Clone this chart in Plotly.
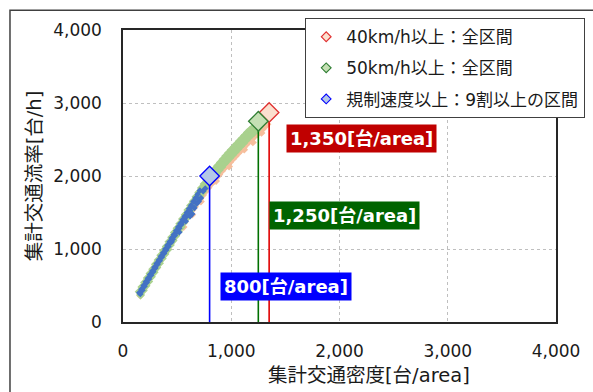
import plotly.graph_objects as go

# ---- data ----
orange_x = [160, 190, 215, 240, 265, 290, 315, 340, 365, 390, 415, 440, 465, 490, 515, 540, 565, 590, 615, 640,
            665, 690, 715, 740, 765, 790, 815, 840, 865, 890, 915, 940, 965, 990, 1015, 1040, 1065, 1090, 1115, 1140,
            1165, 1190, 1215, 1240, 1265, 1290, 1315, 1335,
            560, 720, 980, 1120, 1200, 860, 640, 1280]
orange_y = [360, 450, 520, 585, 650, 710, 775, 835, 895, 955, 1010, 1075, 1130, 1190, 1250, 1300, 1360, 1420, 1470, 1530,
            1580, 1640, 1690, 1740, 1790, 1840, 1890, 1930, 1980, 2020, 2070, 2110, 2150, 2190, 2230, 2270, 2310, 2350, 2390, 2430,
            2470, 2500, 2540, 2570, 2610, 2640, 2680, 2710,
            1300, 1650, 2130, 2360, 2460, 1930, 1470, 2590]

green_x = [150, 175, 200, 225, 250, 275, 300, 325, 350, 375, 400, 425, 450, 475, 500, 525, 550, 575, 600, 625,
           650, 675, 700, 725, 750, 775, 800, 825, 850, 875, 900, 925, 950, 975, 1000, 1025, 1050, 1075, 1100, 1125,
           1150, 1175, 1200, 1225,
           162, 187, 212, 237, 262, 287, 312, 337, 362, 387, 412, 437, 462, 487, 512, 537, 562, 587, 612, 637,
           662, 687, 712, 737, 762, 787, 812, 837, 862, 887, 912, 937, 962, 987, 1012, 1037, 1062, 1087, 1112, 1137,
           1162, 1187, 1212, 1237, 1255]
green_y = [415, 478, 540, 602, 665, 724, 790, 850, 915, 975, 1035, 1100, 1160, 1225, 1285, 1345, 1410, 1470, 1535, 1595,
           1655, 1715, 1775, 1835, 1890, 1945, 1995, 2045, 2095, 2140, 2185, 2230, 2275, 2315, 2355, 2395, 2435, 2475, 2515, 2555,
           2595, 2630, 2660, 2690,
           370, 432, 495, 555, 620, 680, 745, 805, 870, 930, 990, 1055, 1115, 1180, 1240, 1300, 1365, 1425, 1490, 1550,
           1610, 1670, 1730, 1785, 1840, 1895, 1940, 1990, 2035, 2080, 2125, 2170, 2210, 2250, 2290, 2330, 2370, 2410, 2450, 2490,
           2530, 2565, 2600, 2635, 2665]

blue_x = [150, 170, 190, 210, 230, 250, 270, 290, 310, 330, 350, 370, 390, 410, 430, 450, 470, 490, 510, 530,
          550, 570, 590, 610, 630, 650, 670, 690, 710,
          160, 180, 200, 220, 240, 260, 280, 300, 320, 340, 360, 380, 400, 420, 440, 460, 480, 500, 520, 540,
          560, 580, 600, 620,
          640, 660, 680, 700, 720, 690, 740, 760, 580, 520, 450, 620]
blue_y = [400, 450, 500, 550, 600, 650, 700, 750, 800, 850, 900, 950, 1000, 1050, 1100, 1150, 1200, 1250, 1300, 1350,
          1400, 1450, 1500, 1550, 1600, 1650, 1700, 1750, 1800,
          385, 435, 490, 540, 590, 640, 690, 740, 790, 840, 890, 940, 985, 1035, 1085, 1135, 1185, 1235, 1285, 1335,
          1385, 1435, 1480, 1530,
          1480, 1560, 1620, 1650, 1700, 1690, 1790, 1830, 1380, 1230, 1100, 1450]

crit_x = [1350, 1250, 800]
crit_y = [2870, 2750, 2000]
crit_labels = ["1,350[台/area]", "1,250[台/area]", "800[台/area]"]
label_pos_x = [2200, 2050, 1505]
label_pos_y = [2520, 1465, 490]
legend_names = ["40km/h以上：全区間", "50km/h以上：全区間", "規制速度以上：9割以上の区間"]
x_title = "集計交通密度[台/area]"
y_title = "集計交通流率[台/h]"

line_colors = ["#E00000", "#007000", "#0000FF"]
diamond_fill = ["#FBE0CF", "#C5E0B4", "#B4C7E7"]
diamond_edge = ["#E03030", "#2E7D32", "#0000FF"]
box_colors = ["#C00000", "#006400", "#0000FF"]

FONT = "DejaVu Sans, Noto Sans CJK JP, sans-serif"

fig = go.Figure()

# legend dummies
for i in range(3):
    fig.add_trace(go.Scatter(x=[None], y=[None], mode="markers", name=legend_names[i],
                             legendgroup=f"g{i}",
                             marker=dict(symbol="diamond", size=7.5, color=diamond_fill[i],
                                         line=dict(color=diamond_edge[i], width=1.1))))

# scatter clouds
fig.add_trace(go.Scatter(x=orange_x, y=orange_y, mode="markers", showlegend=False,
                         marker=dict(symbol="diamond", size=6, color="#F6BE9C", line=dict(width=0))))
fig.add_trace(go.Scatter(x=green_x, y=green_y, mode="markers", showlegend=False,
                         marker=dict(symbol="diamond", size=7, color="#A9D18E", line=dict(width=0))))
fig.add_trace(go.Scatter(x=blue_x, y=blue_y, mode="markers", showlegend=False,
                         marker=dict(symbol="diamond", size=5, color="#4472C4", line=dict(width=0))))

# vertical lines and big diamonds
for i in range(3):
    fig.add_trace(go.Scatter(x=[crit_x[i], crit_x[i]], y=[0, crit_y[i]], mode="lines", showlegend=False,
                             line=dict(color=line_colors[i], width=1.6)))
for i in range(3):
    fig.add_trace(go.Scatter(x=[crit_x[i]], y=[crit_y[i]], mode="markers", showlegend=False,
                             marker=dict(symbol="diamond", size=15, color=diamond_fill[i],
                                         line=dict(color=diamond_edge[i], width=1.3))))

for i in range(3):
    fig.add_annotation(x=label_pos_x[i], y=label_pos_y[i], text=f"<b>{crit_labels[i]}</b>",
                       showarrow=False, bgcolor=box_colors[i], borderpad=3,
                       font=dict(family=FONT, size=18, color="white"))

# x axis title (offset to the right as in the original)
fig.add_annotation(xref="paper", yref="paper", x=(369 - 123) / 433, y=(322 - 375) / 292,
                   xanchor="center", yanchor="middle", showarrow=False, text=x_title,
                   font=dict(family=FONT, size=19.5, color="#1a1a1a"))

# outer frame
fig.add_shape(type="rect", xref="paper", yref="paper", x0=-0.261, x1=1.3, y0=-0.6, y1=1.068,
              line=dict(color="#404040", width=1.5), layer="below")

axis_common = dict(showgrid=True, gridcolor="#BFBFBF", griddash="dot", gridwidth=1,
                   showline=True, linecolor="#262626", linewidth=1.5, mirror=True,
                   zeroline=False, ticks="", tickformat=",d", automargin=False,
                   tickfont=dict(family=FONT, size=17, color="#1a1a1a"))

fig.update_layout(
    width=593, height=392,
    margin=dict(l=123, r=37, t=30, b=70, autoexpand=False),
    paper_bgcolor="white", plot_bgcolor="white",
    font=dict(family=FONT, color="#1a1a1a"),
    xaxis=dict(range=[0, 4000], tickvals=[0, 1000, 2000, 3000, 4000], ticklabelstandoff=13,
               **axis_common),
    yaxis=dict(range=[0, 4000], tickvals=[0, 1000, 2000, 3000, 4000], ticklabelstandoff=16,
               title=dict(text=y_title, font=dict(family=FONT, size=19.5), standoff=6),
               **axis_common),
    legend=dict(xref="container", yref="container", x=305 / 593, y=1 - 18 / 392,
                xanchor="left", yanchor="top", bgcolor="white",
                bordercolor="#404040", borderwidth=1.2, tracegroupgap=6,
                font=dict(family=FONT, size=17, color="#1a1a1a")),
    showlegend=True,
)

fig.write_html("out.html")
